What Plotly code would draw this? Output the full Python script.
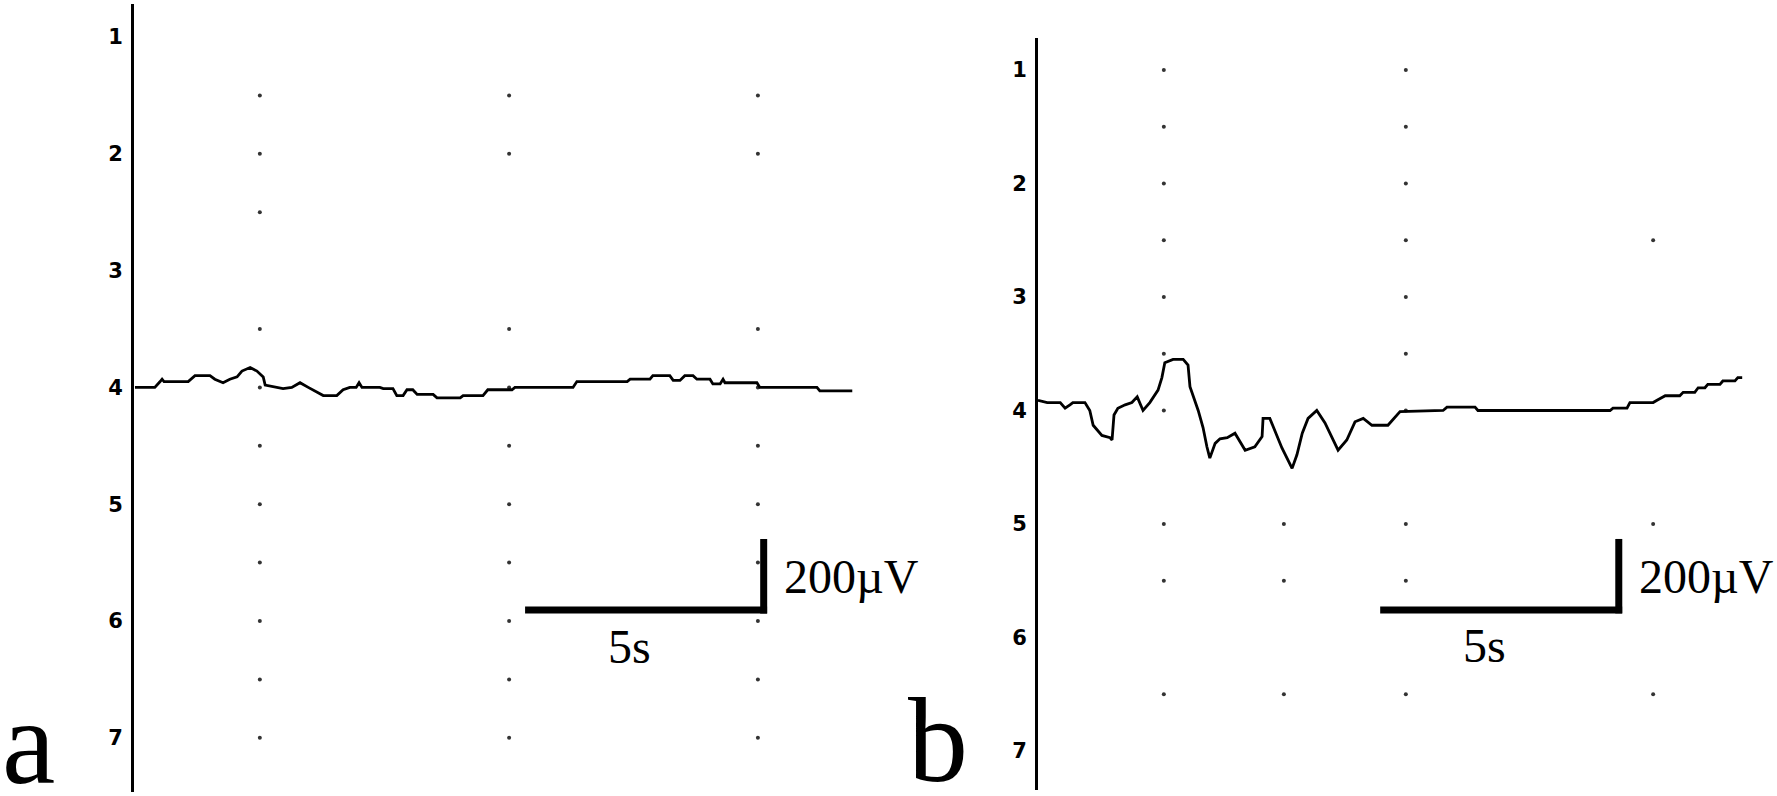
import plotly.graph_objects as go

W, H = 1777, 796

# ---------------- data (time in s, position in channel units) ----------------
channels = [1, 2, 3, 4, 5, 6, 7]
channel_labels = ["1", "2", "3", "4", "5", "6", "7"]

# panel a trace
t_a = [0.02, 0.43, 0.54, 0.58, 0.62, 1.12, 1.26, 1.57, 1.67, 1.84, 1.98, 2.13, 2.23, 2.40,
       2.54, 2.67, 2.71, 2.96, 3.08, 3.26, 3.43, 3.60, 3.78, 3.91, 4.19, 4.32, 4.46, 4.59,
       4.65, 4.71, 5.08, 5.15, 5.35, 5.43, 5.56, 5.64, 5.76, 5.85, 6.18, 6.26, 6.74, 6.80,
       7.21, 7.31, 7.81, 7.87, 9.07, 9.15, 10.19, 10.25, 10.66, 10.72, 11.07, 11.14, 11.28,
       11.38, 11.55, 11.63, 11.90, 11.96, 12.11, 12.17, 12.21, 12.87, 12.93, 14.11, 14.17, 14.84]
v_a = [4.00, 4.00, 3.95, 3.93, 3.95, 3.95, 3.90, 3.90, 3.93, 3.96, 3.93, 3.91, 3.86, 3.83,
       3.86, 3.91, 3.98, 4.00, 4.01, 4.00, 3.96, 4.00, 4.04, 4.07, 4.07, 4.02, 4.00, 4.00,
       3.96, 4.00, 4.00, 4.01, 4.01, 4.07, 4.07, 4.02, 4.02, 4.06, 4.06, 4.09, 4.09, 4.07,
       4.07, 4.02, 4.02, 4.00, 4.00, 3.95, 3.95, 3.93, 3.93, 3.90, 3.90, 3.94, 3.94,
       3.90, 3.90, 3.93, 3.93, 3.97, 3.97, 3.93, 3.96, 3.96, 4.00, 4.00, 4.03, 4.03]

# panel b trace
t_b = [0.00, 0.19, 0.46, 0.56, 0.66, 0.72, 0.97, 1.07, 1.14, 1.32, 1.49, 1.53, 1.57, 1.65,
       1.80, 1.94, 2.05, 2.17, 2.31, 2.48, 2.56, 2.62, 2.79, 3.00, 3.10, 3.14, 3.31, 3.41,
       3.49, 3.55, 3.66, 3.76, 3.91, 4.07, 4.28, 4.48, 4.63, 4.65, 4.79, 4.90, 5.04, 5.25,
       5.35, 5.46, 5.58, 5.76, 5.93, 6.20, 6.38, 6.55, 6.72, 6.90, 7.23, 7.48, 8.37, 8.45,
       9.03, 9.09, 11.82, 11.88, 12.17, 12.23, 12.71, 12.79, 12.96, 13.26, 13.33, 13.57,
       13.64, 13.78, 13.84, 14.09, 14.15, 14.40, 14.46, 14.55]
v_b = [3.91, 3.93, 3.93, 3.98, 3.95, 3.93, 3.93, 4.00, 4.13, 4.22, 4.24, 4.26, 4.04, 3.98,
       3.95, 3.93, 3.88, 4.00, 3.93, 3.82, 3.71, 3.58, 3.55, 3.55, 3.60, 3.79, 4.00, 4.15,
       4.32, 4.42, 4.29, 4.25, 4.24, 4.20, 4.35, 4.32, 4.23, 4.07, 4.07, 4.19, 4.33, 4.51,
       4.39, 4.20, 4.07, 4.00, 4.11, 4.35, 4.26, 4.10, 4.07, 4.13, 4.13, 4.01, 4.00, 3.97,
       3.97, 4.00, 4.00, 3.98, 3.98, 3.93, 3.93, 3.91, 3.87, 3.87, 3.84, 3.84,
       3.80, 3.80, 3.77, 3.77, 3.74, 3.74, 3.71, 3.71]

# grid dots: column time -> rows (channel units)
dots_a = {
    2.60: [1.5, 2, 2.5, 3.5, 4, 4.5, 5, 5.5, 6, 6.5, 7],
    7.75: [1.5, 2, 3.5, 4, 4.5, 5, 5.5, 6, 6.5, 7],
    12.89: [1.5, 2, 3.5, 4, 4.5, 5, 5.5, 6, 6.5, 7],
}
dots_b = {
    2.60: [1, 1.5, 2, 2.5, 3, 3.5, 4, 5, 5.5, 6.5],
    5.08: [5, 5.5, 6.5],
    7.60: [1, 1.5, 2, 2.5, 3, 3.5, 4, 5, 5.5, 6.5],
    12.71: [2.5, 5, 6.5],
}

# scale bars (5 s horizontal, 200 µV vertical, in axis units)
scale_a = dict(t0=8.08, t1=13.08, base=5.906, top=5.298)
scale_b = dict(t0=7.07, t1=12.07, base=5.758, top=5.132)

# ---------------- figure ----------------
fig = go.Figure()

def add_panel(dots, t, v, xa, ya):
    xs, ys = [], []
    for col, rows in dots.items():
        for r in rows:
            xs.append(col)
            ys.append(r)
    fig.add_trace(go.Scatter(x=xs, y=ys, mode="markers", xaxis=xa, yaxis=ya,
                             marker=dict(size=4, color="#333333"), hoverinfo="skip"))
    fig.add_trace(go.Scatter(x=t, y=v, mode="lines", xaxis=xa, yaxis=ya,
                             line=dict(color="black", width=2.8)))

add_panel(dots_a, t_a, v_a, "x", "y")
add_panel(dots_b, t_b, v_b, "x2", "y2")

def add_scale(s, xr, yr):
    vx = s["t1"] - 0.07
    fig.add_shape(type="line", xref=xr, yref=yr, x0=s["t0"], x1=s["t1"],
                  y0=s["base"], y1=s["base"], line=dict(color="black", width=7))
    fig.add_shape(type="line", xref=xr, yref=yr, x0=vx, x1=vx,
                  y0=s["top"], y1=s["base"] + 0.03, line=dict(color="black", width=7))
    fig.add_annotation(xref=xr, yref=yr, x=s["t1"] + 0.3, y=(s["top"] + s["base"]) / 2 + 0.02,
                       text="200µV", showarrow=False, xanchor="left", yanchor="middle",
                       font=dict(family="Liberation Serif", size=48, color="black"))
    fig.add_annotation(xref=xr, yref=yr, x=(s["t0"] + s["t1"]) / 2 - 0.35, y=s["base"] + 0.31,
                       text="5s", showarrow=False, xanchor="center", yanchor="middle",
                       font=dict(family="Liberation Serif", size=48, color="black"))

add_scale(scale_a, "x", "y")
add_scale(scale_b, "x2", "y2")

yaxis_common = dict(showline=True, linecolor="black", linewidth=3, showgrid=False,
                    zeroline=False, ticks="", tickvals=channels, ticktext=channel_labels,
                    tickfont=dict(family="DejaVu Sans", size=21, color="black", weight="bold"),
                    ticklabelstandoff=4)

fig.update_layout(
    width=W, height=H,
    margin=dict(l=0, r=0, t=0, b=0),
    paper_bgcolor="white", plot_bgcolor="white",
    showlegend=False,
    xaxis=dict(domain=[134 / W, 880 / W], range=[0, 15.413], visible=False),
    yaxis=dict(domain=[1 - 792 / H, 1 - 4 / H], range=[7.464, 0.7175], anchor="x", **yaxis_common),
    xaxis2=dict(domain=[1038 / W, 1.0], range=[0, 15.269], visible=False),
    yaxis2=dict(domain=[1 - 790 / H, 1 - 38 / H], range=[7.344, 0.718], anchor="x2", **yaxis_common),
)

fig.add_annotation(xref="paper", yref="paper", x=0.0, y=1 - 742 / H, text="a", showarrow=False,
                   xanchor="left", yanchor="middle",
                   font=dict(family="Liberation Serif", size=120, color="black"))
fig.add_annotation(xref="paper", yref="paper", x=906 / W, y=1 - 740 / H, text="b", showarrow=False,
                   xanchor="left", yanchor="middle",
                   font=dict(family="Liberation Serif", size=120, color="black"))

fig.write_html("out.html", config={"displayModeBar": False},
               post_script="document.body.style.margin='0px';document.body.style.overflow='hidden';")
